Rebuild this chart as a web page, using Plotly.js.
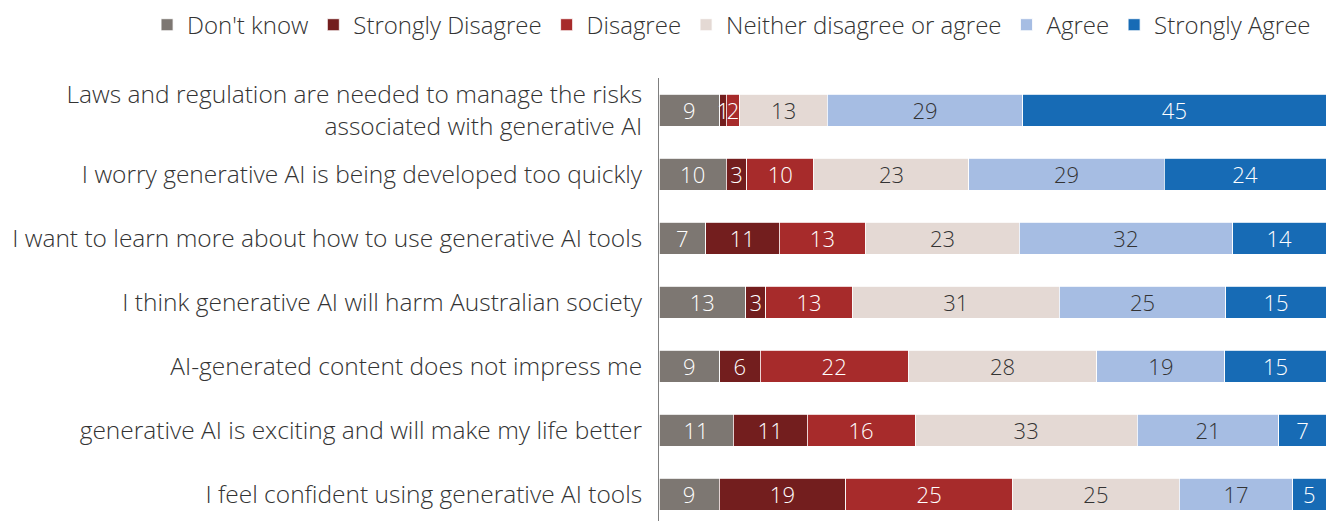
<!DOCTYPE html>
<html>
<head>
<meta charset="utf-8">
<script src="https://cdn.plot.ly/plotly-3.0.1.min.js"></script>
<style>html,body{margin:0;padding:0;background:#fff;}#chart{width:1326px;height:521px;}</style>
</head>
<body>
<div id="chart"></div>
<script>
const categories = [
  "Laws and regulation are needed to manage the risks<br>associated with generative AI",
  "I worry generative AI is being developed too quickly",
  "I want to learn more about how to use generative AI tools",
  "I think generative AI will harm Australian society",
  "AI-generated content does not impress me",
  "generative AI is exciting and will make my life better",
  "I feel confident using generative AI tools"
];
const seriesNames = ["Don't know", "Strongly Disagree", "Disagree", "Neither disagree or agree", "Agree", "Strongly Agree"];
const dontKnow         = [9, 10, 7, 13, 9, 11, 9];
const stronglyDisagree = [1, 3, 11, 3, 6, 11, 19];
const disagree         = [2, 10, 13, 13, 22, 16, 25];
const neither          = [13, 23, 23, 31, 28, 33, 25];
const agree            = [29, 29, 32, 25, 19, 21, 17];
const stronglyAgree    = [45, 24, 14, 15, 15, 7, 5];

const seriesValues = [dontKnow, stronglyDisagree, disagree, neither, agree, stronglyAgree];
const colors = ["#7d7772", "#731e1e", "#a72b2b", "#e4d9d4", "#a6bde3", "#176bb5"];
const textColors = ["#ffffff", "#ffffff", "#ffffff", "#333333", "#333333", "#ffffff"];
const FONT = "'Open Sans', 'Noto Sans', sans-serif";

const traces = seriesValues.map((vals, i) => ({
  type: 'bar',
  orientation: 'h',
  name: seriesNames[i],
  y: categories,
  x: vals,
  text: vals.map(String),
  texttemplate: '%{text}',
  textposition: 'inside',
  insidetextanchor: 'middle',
  textangle: 0,
  constraintext: 'none',
  insidetextfont: {family: FONT, size: 22, weight: 300, color: textColors[i]},
  marker: {color: colors[i], line: {color: '#ffffff', width: 0.8}},
  hoverinfo: 'x+name'
}));

const layout = {
  width: 1326, height: 521,
  margin: {l: 0, r: 0, t: 78, b: 0, pad: 0, autoexpand: false},
  paper_bgcolor: '#ffffff', plot_bgcolor: '#ffffff',
  barmode: 'stack',
  barnorm: 'percent',
  bargap: 0.5,
  font: {family: FONT, color: '#333333', size: 24, weight: 300},
  xaxis: {domain: [659 / 1326, 1], range: [0, 100], visible: false, fixedrange: true},
  yaxis: {
    type: 'category',
    range: [6.42, -0.5],
    showline: true, linecolor: '#7f7f7f', linewidth: 1,
    showgrid: false, zeroline: false,
    ticks: '', ticklabelstandoff: 11,
    tickfont: {family: FONT, size: 24.5, weight: 300, color: '#333333'},
    automargin: false
  },
  showlegend: true,
  legend: {
    orientation: 'h', x: 0.9925, xanchor: 'right',
    yref: 'container', y: 0.995, yanchor: 'top',
    font: {family: FONT, size: 24, weight: 300, color: '#333333'},
    itemwidth: 30, traceorder: 'normal', itemclick: false
  }
};

Plotly.newPlot('chart', traces, layout, {displayModeBar: false, staticPlot: true});
</script>
</body>
</html>
